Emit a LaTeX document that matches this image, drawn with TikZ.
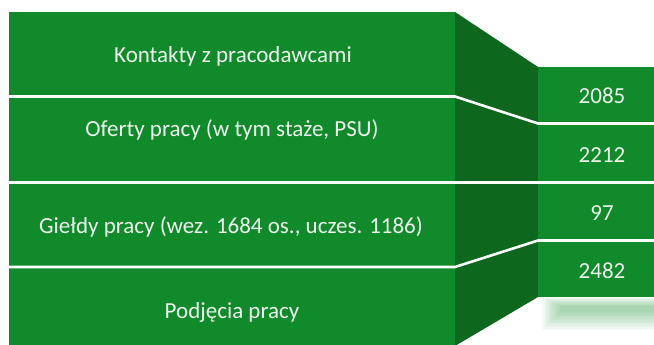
\documentclass[tikz,border=0pt]{standalone}
\usepackage{fontspec}
\setmainfont{Carlito}
\definecolor{mgreen}{RGB}{17,138,43}
\definecolor{dgreen}{RGB}{13,104,30}
\definecolor{txt}{RGB}{236,244,236}
\tikzset{
  lbl/.style={text=txt, anchor=base, inner sep=0pt, font=\fontsize{23}{27}\selectfont},
  sep/.style={draw=white, line width=2.6pt},
}
\begin{document}
\begin{tikzpicture}[x=1pt,y=-1pt]
\useasboundingbox (0,0) rectangle (654,345);
% shadow
\foreach \i in {0,...,13}{
  \fill[mgreen, opacity=0.03] (542+\i*1.4,297+\i*0.7) rectangle (660,330-\i*1.4);
}
% coordinates
\coordinate (lt) at (9,12);
\coordinate (pt) at (455,12);
\coordinate (pb) at (455,346);
\coordinate (rt) at (538,67);
\coordinate (rb) at (538,297);
% left block
\fill[mgreen] (lt) rectangle (pb);
% side panel
\fill[dgreen] (pt) -- (rt) -- (rb) -- (pb) -- cycle;
% right block
\fill[mgreen] (rt) rectangle (654,297);
% separators
\coordinate (a0) at (9,96.5);   \coordinate (a1) at (455,96.5);
\coordinate (a2) at (538,123.5); \coordinate (a3) at (654,123.5);
\coordinate (b0) at (9,182.5);  \coordinate (b3) at (654,182.5);
\coordinate (c0) at (9,267);    \coordinate (c1) at (455,267);
\coordinate (c2) at (538,240.5); \coordinate (c3) at (654,240.5);
\draw[sep] (a0) -- (a1) -- (a2) -- (a3);
\draw[sep] (b0) -- (b3);
\draw[sep] (c0) -- (c1) -- (c2) -- (c3);
% labels
\node[lbl] (k) at (233,62.7) {Kontakty z pracodawcami};
\node[lbl] (o) at (232,136) {Oferty pracy (w tym staże, PSU)};
\node[lbl] (g) at (231,233) {Giełdy pracy (wez. 1684 os., uczes. 1186)};
\node[lbl] (p) at (232,318) {Podjęcia pracy};
\node[lbl] (n1) at (602,103) {2085};
\node[lbl] (n2) at (602,162) {2212};
\node[lbl] (n3) at (602,220) {97};
\node[lbl] (n4) at (602,278) {2482};
\end{tikzpicture}
\end{document}
